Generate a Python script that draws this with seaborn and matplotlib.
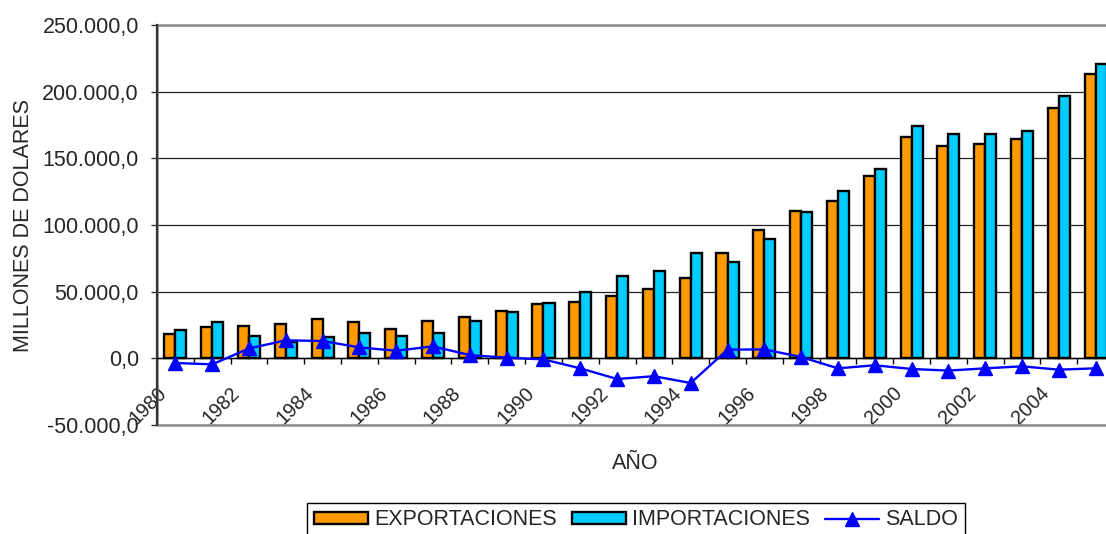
import numpy as np
import pandas as pd
import matplotlib
matplotlib.use("Agg")
import matplotlib.pyplot as plt
import matplotlib.transforms as mtransforms
from matplotlib.patches import Patch, Rectangle
from matplotlib.lines import Line2D
from matplotlib.ticker import FuncFormatter, FixedLocator
import seaborn as sns

# ---------------- data ----------------
years = [str(y) for y in range(1980, 2006)]
exportaciones = [18000, 23400, 24400, 25700, 29200, 26900, 22200, 27900, 30700, 35200,
                 40600, 42400, 46400, 51900, 60600, 79100, 96000, 110500, 118000, 136700,
                 166100, 159100, 160900, 164600, 188000, 213500]
importaciones = [21000, 27400, 17000, 12500, 16200, 18700, 16500, 18900, 28300, 34700,
                 41400, 49900, 61900, 65300, 79100, 72600, 89300, 109500, 125500, 141900,
                 174100, 168300, 168300, 170600, 196500, 221000]
saldo = [-3500, -4500, 7400, 13500, 13000, 8200, 5700, 9000, 2400, 500,
         -800, -7500, -15500, -13400, -18500, 6500, 6700, 1000, -7500, -5200,
         -8000, -9200, -7500, -6000, -8500, -7500]
series_names = ["EXPORTACIONES", "IMPORTACIONES", "SALDO"]
y_ticks = [-50000, 0, 50000, 100000, 150000, 200000, 250000]

C_EXP = "#FF9900"
C_IMP = "#00CCFF"
C_SAL = "#0000FF"

bars_df = pd.DataFrame({
    "year": years * 2,
    "value": exportaciones + importaciones,
    "serie": [series_names[0]] * len(years) + [series_names[1]] * len(years),
})
line_df = pd.DataFrame({"year": years, "saldo": saldo})

# ---------------- style ----------------
sns.set_style("white")
plt.rcParams["font.family"] = ["Liberation Sans", "DejaVu Sans"]
FS = 15.5

W, H = 1106, 534
fig = plt.figure(figsize=(W / 100, H / 100), dpi=100)
ax = fig.add_axes([157 / W, 1 - 425 / H, 957 / W, 400 / H])

sns.barplot(data=bars_df, x="year", y="value", hue="serie",
            palette=[C_EXP, C_IMP], width=0.6, gap=0,
            edgecolor="black", linewidth=1.7, saturation=1,
            legend=False, ax=ax, zorder=3)
sns.pointplot(data=line_df, x="year", y="saldo", color=C_SAL,
              markers="^", markersize=9.5, linewidth=1.7,
              errorbar=None, ax=ax)
for ln in ax.lines:
    ln.set_zorder(5)
    ln.set_markeredgewidth(1.0)

n = len(years)
ax.set_xlim(-0.5, n - 0.5)
ax.set_ylim(y_ticks[0], y_ticks[-1])

# y axis
ax.set_yticks(y_ticks)
ax.yaxis.set_major_formatter(FuncFormatter(
    lambda v, p: f"{v:,.1f}".replace(",", "X").replace(".", ",").replace("X", ".")))
ax.tick_params(axis="y", which="major", direction="out", length=4, width=1,
               color="#333333", labelsize=FS, pad=9, left=True)
ax.yaxis.grid(True, color="#222222", linewidth=0.9)
ax.set_axisbelow(True)

# x axis at zero
ax.spines["bottom"].set_position(("data", 0))
ax.spines["bottom"].set_color("black")
ax.spines["bottom"].set_linewidth(1.0)
ax.spines["bottom"].set_zorder(4)
ax.spines["left"].set_color("#333333")
ax.spines["left"].set_linewidth(1.6)
ax.spines["top"].set_visible(False)
ax.spines["right"].set_visible(False)
ax.add_patch(Rectangle((0, 0), 1, 1, transform=ax.transAxes, fill=False,
                       edgecolor="#8a8a8a", linewidth=1.8, clip_on=False, zorder=1))

ax.xaxis.set_major_locator(FixedLocator(list(range(0, n, 2))))
ax.set_xticklabels(years[::2], rotation=45, ha="right", va="center",
                   rotation_mode="anchor", fontsize=14.2)
ax.xaxis.set_minor_locator(FixedLocator([i - 0.5 for i in range(n + 1)]))
ax.tick_params(axis="x", which="major", length=0, pad=23)
ax.tick_params(axis="x", which="minor", direction="out", length=4, width=1,
               color="black", bottom=True)
offset = mtransforms.ScaledTranslation(-12 / 100, 0, fig.dpi_scale_trans)
for lbl in ax.get_xticklabels():
    lbl.set_transform(lbl.get_transform() + offset)

ax.set_xlabel("AÑO", fontsize=FS)
ax.xaxis.set_label_coords(0.5, -0.07)
ax.set_ylabel("MILLONES DE DOLARES", fontsize=FS)
ax.yaxis.set_label_coords(-0.1285, 0.5)

# legend
handles = [
    Patch(facecolor=C_EXP, edgecolor="black", linewidth=1.7),
    Patch(facecolor=C_IMP, edgecolor="black", linewidth=1.7),
    Line2D([0], [0], color=C_SAL, linewidth=1.7, marker="^", markersize=9.5),
]
leg = fig.legend(handles, series_names, loc="upper center",
                 bbox_to_anchor=(636 / W, 1 - 503 / H), ncol=3,
                 frameon=True, fancybox=False, edgecolor="black", framealpha=1,
                 fontsize=FS, handlelength=2.5, handleheight=0.5,
                 handletextpad=0.3, columnspacing=0.7, borderpad=0.3,
                 borderaxespad=0)
leg.get_frame().set_linewidth(1.0)

fig.savefig("out.png", dpi=100)
